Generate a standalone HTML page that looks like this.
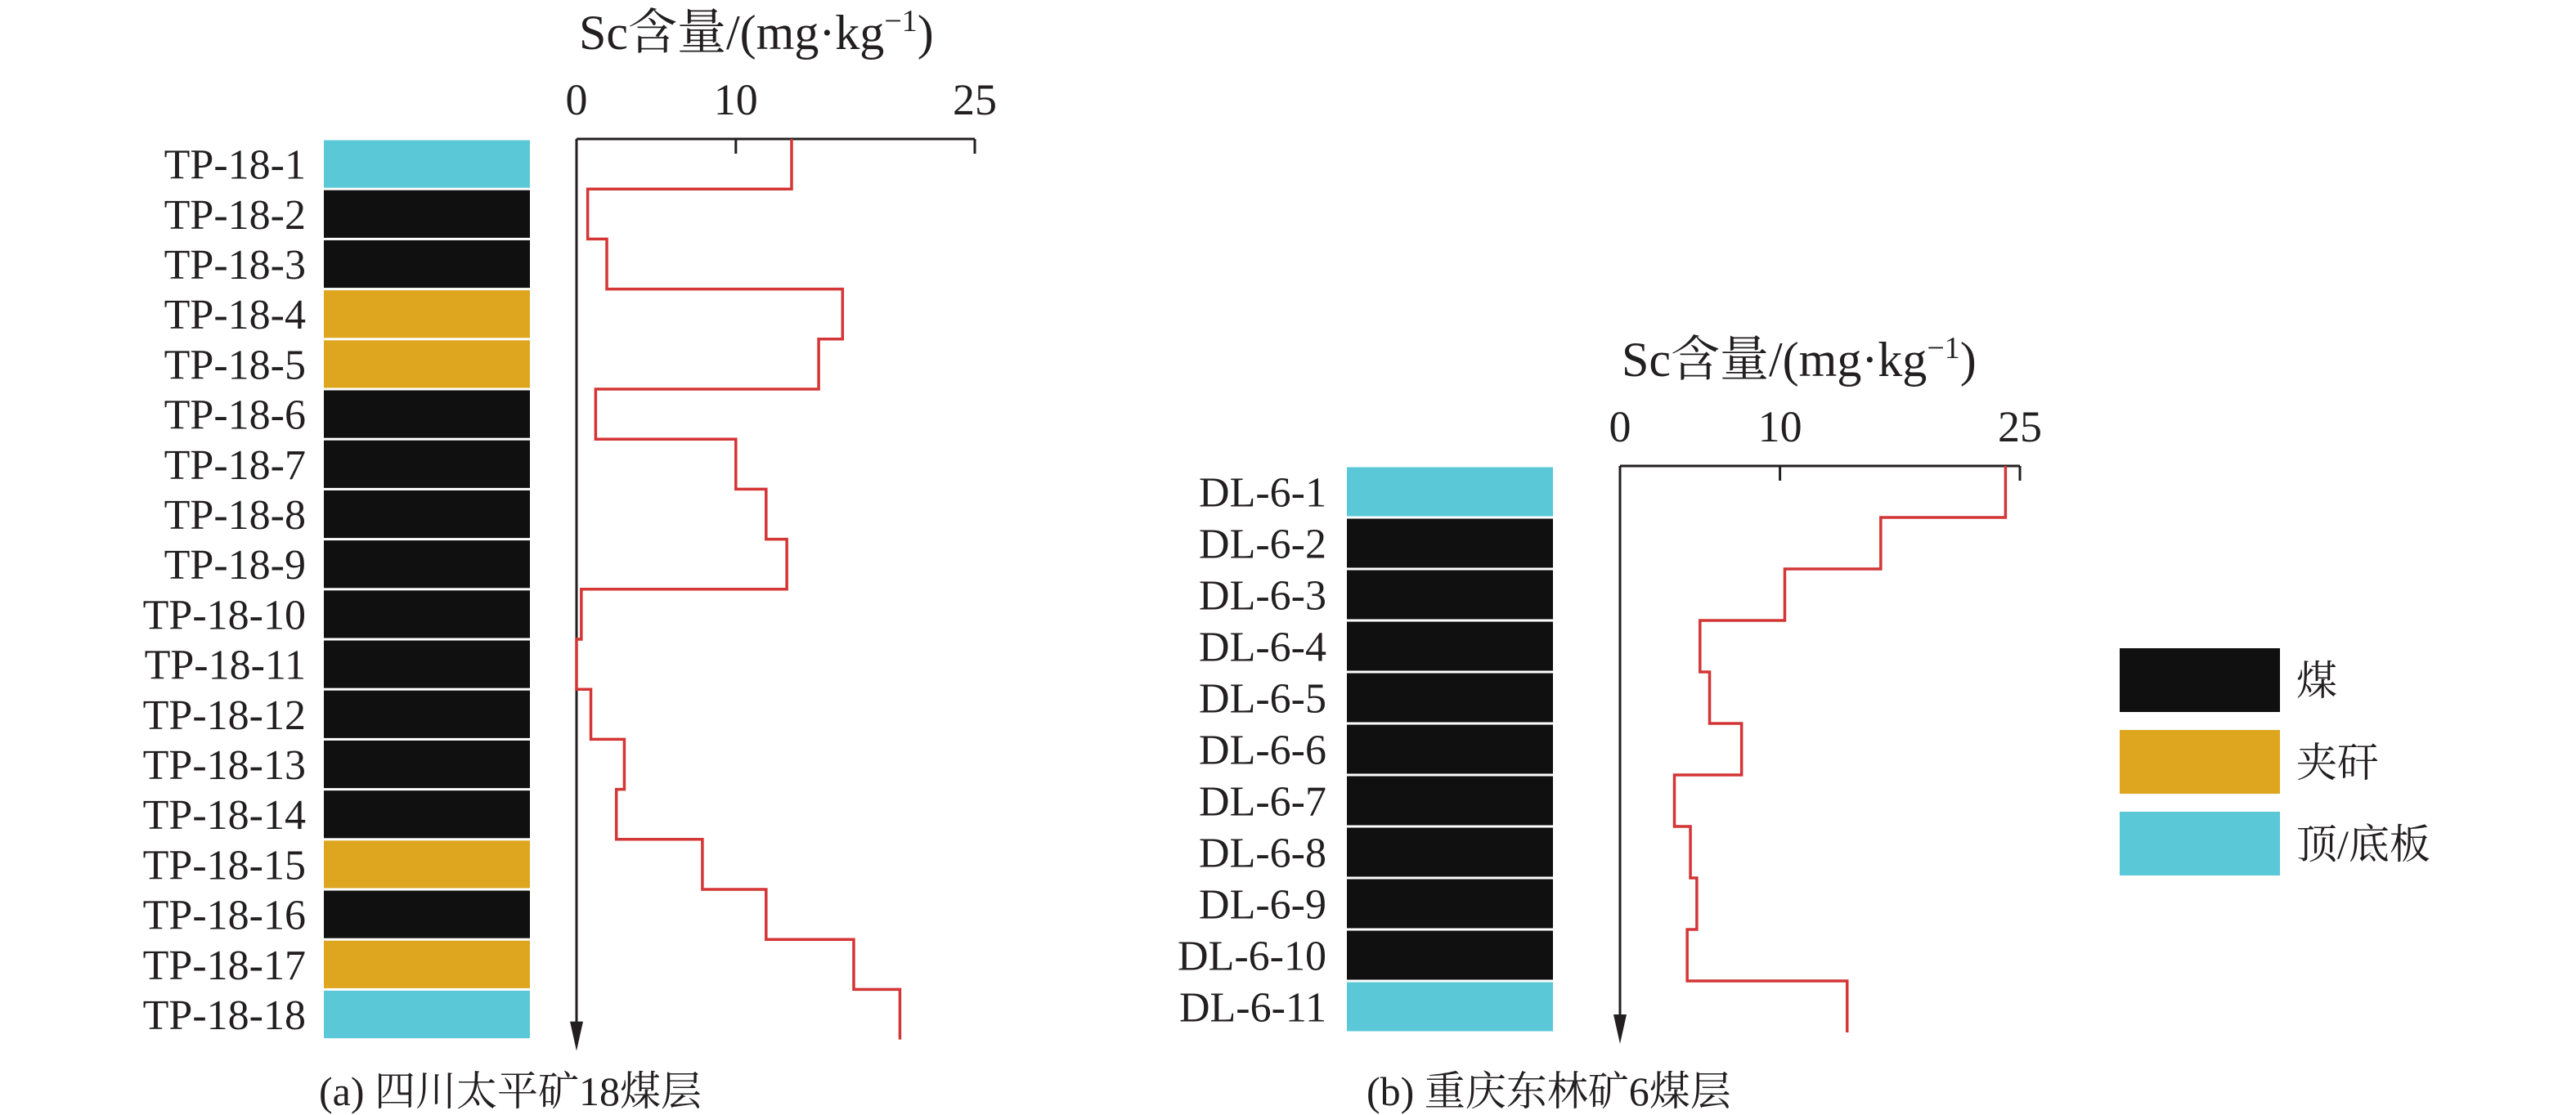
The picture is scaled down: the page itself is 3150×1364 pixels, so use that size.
<!DOCTYPE html>
<html><head><meta charset="utf-8"><style>
html,body{margin:0;padding:0;background:#fff;}
svg{display:block;}
text{font-family:"Liberation Serif","Noto Serif CJK SC",serif;fill:#231f20;}
</style></head><body>
<svg id="chart" width="3150" height="1364" viewBox="0 0 3150 1364" xmlns="http://www.w3.org/2000/svg"></svg>
<script>
const labelsA=["TP-18-1","TP-18-2","TP-18-3","TP-18-4","TP-18-5","TP-18-6","TP-18-7","TP-18-8","TP-18-9","TP-18-10","TP-18-11","TP-18-12","TP-18-13","TP-18-14","TP-18-15","TP-18-16","TP-18-17","TP-18-18"];
const typesA=["roof","coal","coal","parting","parting","coal","coal","coal","coal","coal","coal","coal","coal","coal","parting","coal","parting","roof"];
const valuesA=[13.5,0.7,1.9,16.7,15.2,1.2,10.0,11.9,13.2,0.3,0,0.9,3.0,2.5,7.9,11.9,17.4,20.3];
const labelsB=["DL-6-1","DL-6-2","DL-6-3","DL-6-4","DL-6-5","DL-6-6","DL-6-7","DL-6-8","DL-6-9","DL-6-10","DL-6-11"];
const typesB=["roof","coal","coal","coal","coal","coal","coal","coal","coal","coal","roof"];
const valuesB=[24.1,16.3,10.3,5.0,5.6,7.6,3.4,4.4,4.8,4.2,14.2];
const tickValues=[0,10,25];
const legendKeys=["coal","parting","roof"];
const legendLabels=["煤","夹矸","顶/底板"];

const colors={coal:"#101010",parting:"#dea51f",roof:"#5bc8d8"};
const NS="http://www.w3.org/2000/svg";
const svg=document.getElementById("chart");
function el(tag,attrs,parent){const e=document.createElementNS(NS,tag);for(const k in attrs)e.setAttribute(k,attrs[k]);(parent||svg).appendChild(e);return e;}

function panel(cfg){
  const g=el("g",{});
  
  
  const x=v=>cfg.ax+(v/25)*(cfg.ax25-cfg.ax);
  const y=i=>cfg.top+i*cfg.rowH;
  const n=cfg.labels.length;
  cfg.labels.forEach((lab,i)=>{
    const r=el("rect",{x:cfg.barX,y:y(i)+1.5,width:cfg.barW,height:cfg.rowH-3,fill:colors[cfg.types[i]]},g);
    
    
    const t=el("text",{x:cfg.labelX,y:y(i)+cfg.rowH/2+18,"text-anchor":"end","font-size":52},g);
    t.textContent=lab;
    
    
  });
  const axis=el("path",{d:`M${cfg.ax},${cfg.top} H${x(25)} M${x(10)},${cfg.top} v18 M${x(25)},${cfg.top} v18 M${cfg.ax},${cfg.top} V${y(n)-10}`,stroke:"#231f20","stroke-width":3,fill:"none"},g);
  
  
  const arrow=el("path",{d:`M${cfg.ax-8},${y(n)-22} L${cfg.ax+8},${y(n)-22} L${cfg.ax},${y(n)+14} Z`,fill:"#231f20"},g);
  
  
  tickValues.forEach(v=>{
    const t=el("text",{x:x(v),y:cfg.top-30,"text-anchor":"middle","font-size":54},g);
    t.textContent=String(v);
    
    
  });
  const title=el("text",{x:cfg.titleX,y:cfg.top-110,"font-size":60},g);
  title.innerHTML='Sc含量/(mg·kg<tspan dy="-22" font-size="38">−1</tspan><tspan dy="22">)</tspan>';
  
  
  let d="";
  cfg.values.forEach((v,i)=>{d+=(i===0?`M${x(v)},${y(i)}`:` H${x(v)}`)+` V${y(i+1)}`;});
  const line=el("path",{d:d,stroke:"#d43535","stroke-width":3.5,fill:"none"},g);
  
  
  const cap=el("text",{x:cfg.capX,y:1352,"font-size":50},g);
  cap.textContent=cfg.caption;
  
  
}
panel({name:"panel-a",labels:labelsA,types:typesA,values:valuesA,ax:705,ax25:1192,top:170,rowH:61.2,barX:396,barW:252,labelX:374,titleX:708,capX:390,caption:"(a) 四川太平矿18煤层"});
panel({name:"panel-b",labels:labelsB,types:typesB,values:valuesB,ax:1981,ax25:2470,top:570,rowH:63,barX:1647,barW:252,labelX:1622,titleX:1983,capX:1671,caption:"(b) 重庆东林矿6煤层"});

const lg=el("g",{});


legendKeys.forEach((k,i)=>{
  const r=el("rect",{x:2592,y:793+i*100,width:196,height:78,fill:colors[k]},lg);
  
  
  const t=el("text",{x:2808,y:850+i*100,"font-size":50},lg);
  t.textContent=legendLabels[i];
  
  
});
</script>
</body></html>
